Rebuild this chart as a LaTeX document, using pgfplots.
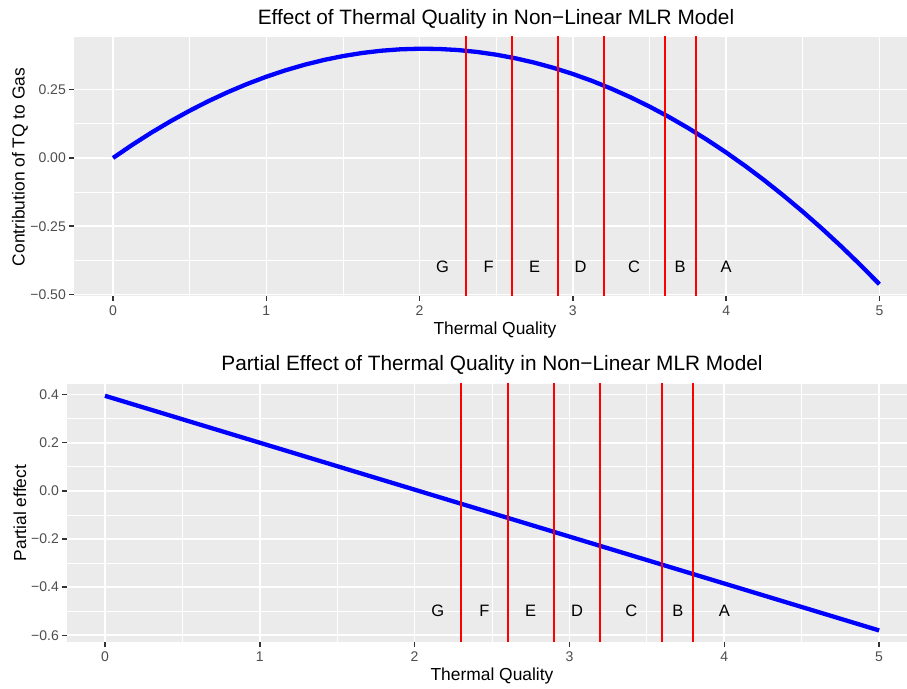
\documentclass[border=0pt]{standalone}
\usepackage{pgfplots}
\pgfplotsset{compat=1.18}
\usepackage{fontspec}
\setmainfont{Liberation Sans}
\definecolor{panelbg}{HTML}{EBEBEB}
\definecolor{tickcol}{HTML}{333333}
\definecolor{ticklab}{HTML}{4D4D4D}
\newcommand{\tickfont}{\fontsize{14}{16}\selectfont}

\pgfplotsset{
  ggpanel/.style={
    scale only axis,
    anchor=south west,
    axis background/.style={fill=panelbg},
    axis line style={draw=none},
    tick pos=left,
    tick align=outside,
    major tick length=5pt,
    minor tick length=0pt,
    tick style={color=tickcol, line width=1.5pt},
    grid=both,
    major grid style={white, line width=1.6pt},
    minor grid style={white, line width=0.8pt},
    minor tick num=1,
    every tick label/.append style={font=\tickfont, text=ticklab},
    xtick={0,1,2,3,4,5},
    xticklabels={0,1,2,3,4,5},
    xticklabel style={font=\tickfont, text=ticklab, anchor=north, inner sep=0pt, yshift=-5pt},
    yticklabel style={font=\tickfont, text=ticklab, anchor=east, inner sep=0pt, xshift=-3pt},
  },
  band/.style={color=red, line width=2pt, forget plot},
  fitline/.style={color=blue, line width=4.3pt},
}
\tikzset{
  grade/.style={font=\fontsize{16.5}{18}\selectfont},
  ttl/.style={font=\fontsize{20.8}{24}\selectfont},
  lbl/.style={font=\fontsize{17.4}{20}\selectfont},
}

\begin{document}
\begin{tikzpicture}
\useasboundingbox (0pt,0pt) rectangle (907pt,688pt);

% top panel: contribution
\begin{axis}[ggpanel,
  at={(74pt,392pt)}, width=833pt, height=259pt,
  xmin=-0.255, xmax=5.18,
  ymin=-0.5056, ymax=0.443,
  ytick={-0.5,-0.25,0,0.25},
  yticklabels={−0.50,−0.25,0.00,0.25},
]
\addplot[fitline] coordinates {
  (0,0) (0.125,0.0479) (0.25,0.0927) (0.375,0.1344) (0.5,0.1731) (0.625,0.2088)
  (0.75,0.2414) (0.875,0.2710) (1,0.2975) (1.125,0.3210) (1.25,0.3414) (1.375,0.3588)
  (1.5,0.3731) (1.625,0.3844) (1.75,0.3927) (1.875,0.3979) (2,0.4000) (2.125,0.3991)
  (2.25,0.3952) (2.375,0.3882) (2.5,0.3781) (2.625,0.3650) (2.75,0.3489) (2.875,0.3297)
  (3,0.3075) (3.125,0.2822) (3.25,0.2539) (3.375,0.2225) (3.5,0.1881) (3.625,0.1507)
  (3.75,0.1102) (3.875,0.0666) (4,0.0200) (4.125,-0.0296) (4.25,-0.0823) (4.375,-0.1381)
  (4.5,-0.1969) (4.625,-0.2587) (4.75,-0.3236) (4.875,-0.3915) (5,-0.4625)
};
\addplot[band] coordinates {(2.3,-1) (2.3,1)};
\addplot[band] coordinates {(2.6,-1) (2.6,1)};
\addplot[band] coordinates {(2.9,-1) (2.9,1)};
\addplot[band] coordinates {(3.2,-1) (3.2,1)};
\addplot[band] coordinates {(3.6,-1) (3.6,1)};
\addplot[band] coordinates {(3.8,-1) (3.8,1)};
\node[grade] at (axis cs:2.15,-0.40) {G};
\node[grade] at (axis cs:2.45,-0.40) {F};
\node[grade] at (axis cs:2.75,-0.40) {E};
\node[grade] at (axis cs:3.05,-0.40) {D};
\node[grade] at (axis cs:3.40,-0.40) {C};
\node[grade] at (axis cs:3.70,-0.40) {B};
\node[grade] at (axis cs:4.00,-0.40) {A};
\end{axis}

% bottom panel: partial effect
\begin{axis}[ggpanel,
  at={(67pt,46pt)}, width=840pt, height=258pt,
  xmin=-0.245, xmax=5.18,
  ymin=-0.628, ymax=0.444,
  ytick={-0.6,-0.4,-0.2,0,0.2,0.4},
  yticklabels={−0.6,−0.4,−0.2,0.0,0.2,0.4},
]
\addplot[fitline] coordinates {(0,0.395) (5,-0.580)};
\addplot[band] coordinates {(2.3,-1) (2.3,1)};
\addplot[band] coordinates {(2.6,-1) (2.6,1)};
\addplot[band] coordinates {(2.9,-1) (2.9,1)};
\addplot[band] coordinates {(3.2,-1) (3.2,1)};
\addplot[band] coordinates {(3.6,-1) (3.6,1)};
\addplot[band] coordinates {(3.8,-1) (3.8,1)};
\node[grade] at (axis cs:2.15,-0.50) {G};
\node[grade] at (axis cs:2.45,-0.50) {F};
\node[grade] at (axis cs:2.75,-0.50) {E};
\node[grade] at (axis cs:3.05,-0.50) {D};
\node[grade] at (axis cs:3.40,-0.50) {C};
\node[grade] at (axis cs:3.70,-0.50) {B};
\node[grade] at (axis cs:4.00,-0.50) {A};
\end{axis}

% titles and axis labels
\node[ttl] at (496pt,669pt) {Effect of Thermal Quality in Non−Linear MLR Model};
\node[ttl] at (492pt,323pt) {Partial Effect of Thermal Quality in Non−Linear MLR Model};
\node[lbl] at (495pt,358pt) {Thermal Quality};
\node[lbl] at (492pt,12pt) {Thermal Quality};
\node[lbl, rotate=90] at (20pt,521pt) {Contribution of TQ to Gas};
\node[lbl, rotate=90] at (20pt,175pt) {Partial effect};
\end{tikzpicture}
\end{document}
